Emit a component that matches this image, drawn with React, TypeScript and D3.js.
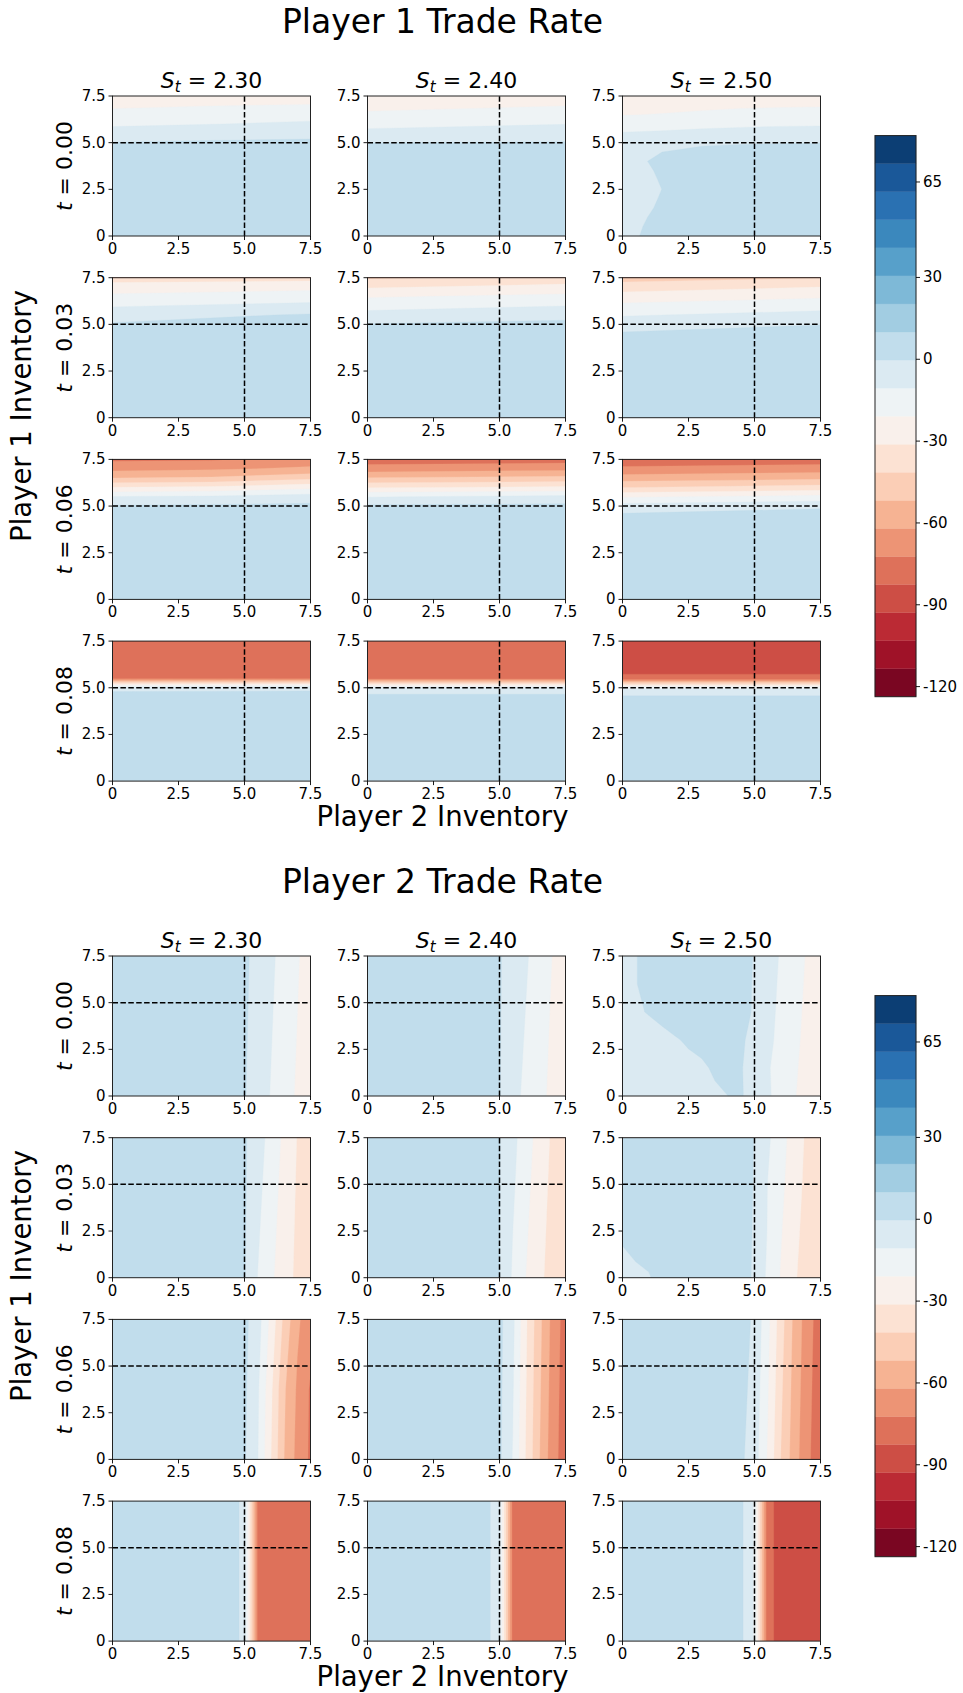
import React from 'react';
import * as d3 from 'd3';

// ---------------- scales / levels ----------------
// contour levels (21 evenly spaced boundaries)
const LEVELS = [-123.7, -113.4, -103.1, -92.85, -82.56, -72.28, -61.99, -51.71, -41.42, -31.14, -20.85, -10.57, -0.28, 10.0, 20.29, 30.58, 40.86, 51.15, 61.43, 71.72, 82.0];
const RDBU_POS = [0, 0.1, 0.2, 0.3, 0.4, 0.5, 0.6, 0.7, 0.8, 0.9, 1];
const RDBU_HEX = ['#67001f', '#b2182b', '#d6604d', '#f4a582', '#fddbc7', '#f7f7f7', '#d1e5f0', '#92c5de', '#4393c3', '#2166ac', '#053061'];
const CBAR_TICKS = [-120, -90, -60, -30, 0, 30, 65];
const CBAR_LABELS = ['-120', '-90', '-60', '-30', '0', '30', '65'];
const AXIS_TICKS = [0, 2.5, 5, 7.5];
const AXIS_TICK_LABELS = ['0', '2.5', '5.0', '7.5'];
const PRICES = ['2.30', '2.40', '2.50'];
const TIMES = ['0.00', '0.03', '0.06', '0.08'];
const GUIDE_INVENTORY = 5;
const INV_MAX = 7.5;
const BASE_RATE = 5; // value of the plateau region

// ---------------- Player 1 trade rate fields ----------------
// rows: Player 1 inventory from 7.5 downward (step 0.5); columns: Player 2 inventory evenly 0..7.5
const P1_T0_S230 = [
  [-27, -26, -25],
  [-22.6, -21.2, -20.4],
  [-17.8, -15.7, -14.6],
  [-12.2, -10.8, -8.8],
  [-6.3, -4.3, -3.1],
  [0, 1.0, 1.5],
  [5, 5, 5],
];
const P1_T0_S240 = [
  [-28, -26],
  [-23.7, -21.2],
  [-19.2, -15.7],
  [-13.6, -10.8],
  [-7.5, -5],
  [-0.4, 0.2],
  [5, 5],
];
const P1_T0_S250 = [
  [-27, -26.5, -26, -25.5, -25.5, -25],
  [-24.1, -23.5, -22.8, -22.2, -21.9, -21.6],
  [-21.2, -20.5, -19.4, -18.2, -17.5, -17.1],
  [-16.2, -14.8, -13.5, -12.6, -12.0, -11.7],
  [-9.8, -9.0, -7.8, -7.0, -6.4, -6.2],
  [-5.5, -4.9, -2.4, -1.35, -0.8, -0.6],
  [-3, -0.3, 3.0, 4.3, 5, 5],
  [-3, 1.3, 5, 5, 5, 5],
  [-3, 0.46, 5, 5, 5, 5],
  [-3, 0.05, 5, 5, 5, 5],
  [-3, -0.25, 5, 5, 5, 5],
  [-3, 0.05, 5, 5, 5, 5],
  [-3, 0.46, 5, 5, 5, 5],
  [-3, 1.3, 5, 5, 5, 5],
  [-3, 2.3, 5, 5, 5, 5],
  [-3, 3.3, 5, 5, 5, 5],
];
const P1_T3_S230 = [
  [-36, -35],
  [-26.7, -24],
  [-18.6, -15.7],
  [-11.4, -8],
  [-5, 0.8],
  [0.8, 5],
  [5, 5],
];
const P1_T3_S240 = [
  [-43, -38],
  [-32.2, -28],
  [-22, -18.5],
  [-14.3, -10.8],
  [-7.1, -3.1],
  [0.2, 1.9],
  [5, 5],
];
const P1_T3_S250 = [
  [-46, -42],
  [-36, -31.1],
  [-26.7, -22.5],
  [-18.6, -14.6],
  [-11.4, -7.3],
  [-5, -0.7],
  [0.8, 5],
  [5, 5],
];
const P1_T6_S230 = [
  [-74, -73.5, -68],
  [-65.2, -63.5, -60.2],
  [-51.7, -50.3, -44],
  [-30.9, -29, -24],
  [-10.1, -9, -5.7],
  [0.8, 1.5, 2],
  [5, 5, 5],
];
const P1_T6_S240 = [
  [-78, -77],
  [-67.7, -65],
  [-51, -48.5],
  [-31.9, -29.5],
  [-11.1, -8],
  [1.4, 2.2],
  [5, 5],
];
const P1_T6_S250 = [
  [-79, -78],
  [-70.1, -67.5],
  [-57, -54],
  [-41.7, -37],
  [-22, -18],
  [-6, -2.5],
  [1.4, 5],
  [5, 5],
];
const P1_T8_S230 = [
  [-75, -74],
  [-75, -74],
  [-75, -74],
  [-75, -74],
  [-75, -74],
  [-4, -3],
  [5, 5],
];
const P1_T8_S240 = [
  [-76, -76],
  [-76, -76],
  [-76, -76],
  [-76, -76],
  [-76, -76],
  [-8, -8],
  [3, 3],
  [5, 5],
];
const P1_T8_S250 = [
  [-85, -85],
  [-85, -85],
  [-85, -85],
  [-85, -85],
  [-80.5, -80.5],
  [-12, -12],
  [1.5, 1.5],
  [5, 5],
];

// ---------------- Player 2 trade rate fields ----------------
// rows: Player 2 inventory from 7.5 leftward (step 0.5); columns: Player 1 inventory evenly 0..7.5
const P2_T0_S230 = [
  [-27, -25.5],
  [-22.1, -19.9],
  [-16.8, -14.3],
  [-11.1, -8.7],
  [-5.3, -3.3],
  [0.4, 1.4],
  [5, 5],
];
const P2_T0_S240 = [
  [-28, -26],
  [-23.1, -21],
  [-18.1, -15.2],
  [-13, -9.4],
  [-7.1, -4.5],
  [0.1, 0.5],
  [5, 5],
];
const P2_T0_S250 = [
  [-27, -26.8, -26.6, -26.4, -26.2, -26],
  [-23.5, -23.3, -23.0, -22.6, -22.2, -21.7],
  [-20.4, -19.8, -19.0, -18.4, -17.6, -17.0],
  [-13.8, -14.2, -13.4, -12.9, -12.2, -11.5],
  [-9.4, -9.7, -8.2, -7.3, -6.8, -6.25],
  [-4.5, -4.3, -3.55, -1.7, -1.4, -1.0],
  [0.5, 0.2, 1.1, 3.9, 4.0, 4.2],
  [-0.3, 5, 5, 5, 5, 5],
  [-3, 2, 5, 5, 5, 5],
  [-3, -3, 5, 5, 5, 5],
  [-3, -3, 1, 5, 5, 5],
  [-3, -3, -1.1, 5, 5, 5],
  [-3, -3, -5.4, 5, 5, 5],
  [-3, -3, -9, 1, 5, 5],
  [-3, -3, -3, -3, -1, -1],
  [-3, -3, -3, -3, -3, -3],
];
const P2_T3_S230 = [
  [-38, -36],
  [-33.1, -31.5],
  [-27, -23.1],
  [-18.9, -14.3],
  [-10.8, -6.1],
  [0.4, 1],
  [5, 5],
];
const P2_T3_S240 = [
  [-40, -38],
  [-34.7, -32.6],
  [-29, -25.1],
  [-21, -16],
  [-11.9, -7.7],
  [0.1, 0.1],
  [5, 5],
];
const P2_T3_S250 = [
  [-40, -39.3, -38.7, -38],
  [-35, -34.3, -33.6, -32.9],
  [-30.1, -28.8, -27.3, -25.8],
  [-21.7, -20.1, -18.3, -16.8],
  [-12.5, -11.1, -10.8, -8.9],
  [-2.1, -1.5, -1.1, -0.7],
  [5, 5, 5, 5],
  [5, 5, 5, 5],
  [5, 5, 5, 5],
  [5, 5, 5, 5],
  [5, 5, 5, 5],
  [5, 5, 5, 5],
  [3.5, 5, 5, 5],
  [-1, 5, 5, 5],
  [-3, 5, 5, 5],
  [-3, 1, 5, 5],
];
const P2_T6_S230 = [
  [-74, -73.5, -68],
  [-65.2, -63.5, -60.2],
  [-51.7, -50.3, -44],
  [-30.9, -29, -24],
  [-10.1, -9, -5.7],
  [0.8, 1.5, 2],
  [5, 5, 5],
];
const P2_T6_S240 = [
  [-78, -77],
  [-67.7, -65],
  [-51, -48.5],
  [-31.9, -29.5],
  [-11.1, -8],
  [1.4, 2.2],
  [5, 5],
];
const P2_T6_S250 = [
  [-79, -78],
  [-70.1, -67.5],
  [-57, -54],
  [-41.7, -37],
  [-22, -18],
  [-6, -2.5],
  [1.4, 5],
  [5, 5],
];
const P2_T8_S230 = [
  [-75, -75],
  [-75, -75],
  [-75, -75],
  [-75, -75],
  [-75, -75],
  [-4, -4],
  [5, 5],
];
const P2_T8_S240 = [
  [-76, -76],
  [-76, -76],
  [-76, -76],
  [-76, -76],
  [-76, -76],
  [-8, -8],
  [3, 3],
  [5, 5],
];
const P2_T8_S250 = [
  [-85, -85],
  [-85, -85],
  [-85, -85],
  [-85, -85],
  [-80.5, -80.5],
  [-12, -12],
  [1.5, 1.5],
  [5, 5],
];

const P1_FIELDS = [
  [P1_T0_S230, P1_T0_S240, P1_T0_S250],
  [P1_T3_S230, P1_T3_S240, P1_T3_S250],
  [P1_T6_S230, P1_T6_S240, P1_T6_S250],
  [P1_T8_S230, P1_T8_S240, P1_T8_S250],
];
const P2_FIELDS = [
  [P2_T0_S230, P2_T0_S240, P2_T0_S250],
  [P2_T3_S230, P2_T3_S240, P2_T3_S250],
  [P2_T6_S230, P2_T6_S240, P2_T6_S250],
  [P2_T8_S230, P2_T8_S240, P2_T8_S250],
];

const FIGURES = [
  { title: 'Player 1 Trade Rate', fields: P1_FIELDS, orient: 'y' },
  { title: 'Player 2 Trade Rate', fields: P2_FIELDS, orient: 'x' },
];

// ---------------- layout ----------------
const FIG_OFFSET = 860;
const COL_LEFT0 = 112.5;
const COL_PITCH = 255;
const PANEL_W = 198;
const ROW_TOP0 = 96;
const ROW_PITCH = 181.7;
const PANEL_H = 140;
const CBAR_X = 875;
const CBAR_W = 41;
const CBAR_TOP = 135.6;
const CBAR_BOTTOM = 696.7;
const FONT = "'DejaVu Sans', 'Liberation Sans', sans-serif";

const cmap = d3.scaleLinear<string>().domain(RDBU_POS).range(RDBU_HEX).interpolate(d3.interpolateRgb);
const BAND_COLORS = LEVELS.slice(0, -1).map((l, i) => cmap((i + 0.5) / (LEVELS.length - 1)));

function buildGrid(rows: number[][], orient: string) {
  const n = rows[0].length;
  const N = 16;
  if (orient === 'y') {
    const nx = n, ny = N;
    const values: number[] = new Array(nx * ny);
    for (let r = 0; r < ny; r++)
      for (let c = 0; c < nx; c++) values[r * nx + c] = rows[r] ? rows[r][c] : BASE_RATE;
    return {
      values, nx, ny,
      gx: (g: number) => (g - 0.5) * INV_MAX / (n - 1),
      gy: (g: number) => INV_MAX - (g - 0.5) * 0.5,
    };
  }
  const nx = N, ny = n;
  const values: number[] = new Array(nx * ny);
  for (let r = 0; r < ny; r++)
    for (let c = 0; c < nx; c++) {
      const row = rows[N - 1 - c];
      values[r * nx + c] = row ? row[n - 1 - r] : BASE_RATE;
    }
  return {
    values, nx, ny,
    gx: (g: number) => (g - 0.5) * 0.5,
    gy: (g: number) => INV_MAX - (g - 0.5) * INV_MAX / (n - 1),
  };
}

function Panel({ rows, orient, left, top, id }: any) {
  const x = d3.scaleLinear().domain([0, INV_MAX]).range([left, left + PANEL_W]);
  const y = d3.scaleLinear().domain([0, INV_MAX]).range([top + PANEL_H, top]);
  const g = buildGrid(rows, orient);
  const contours = d3.contours().size([g.nx, g.ny]).thresholds(LEVELS.slice(0, -1))(g.values);
  const proj = d3.geoTransform({
    point: function (this: any, px: number, py: number) {
      this.stream.point(x(g.gx(px)), y(g.gy(py)));
    },
  });
  const path = d3.geoPath(proj as any);
  return (
    <g>
      <clipPath id={id}>
        <rect x={left} y={top} width={PANEL_W} height={PANEL_H} />
      </clipPath>
      <g clipPath={`url(#${id})`}>
        {contours.map((c, i) =>
          c.coordinates.length ? (
            <path key={i} d={path(c as any) || ''} fill={BAND_COLORS[i]} stroke={BAND_COLORS[i]} strokeWidth={0.3} />
          ) : null
        )}
      </g>
      <line x1={x(0)} x2={x(INV_MAX)} y1={y(GUIDE_INVENTORY)} y2={y(GUIDE_INVENTORY)} stroke="#000" strokeWidth={1.5} strokeDasharray="5.5,2.4" />
      <line x1={x(GUIDE_INVENTORY)} x2={x(GUIDE_INVENTORY)} y1={y(0)} y2={y(INV_MAX)} stroke="#000" strokeWidth={1.5} strokeDasharray="5.5,2.4" />
      <rect x={left} y={top} width={PANEL_W} height={PANEL_H} fill="none" stroke="#222" strokeWidth={1} />
      {AXIS_TICKS.map((t, i) => (
        <g key={'x' + i}>
          <line x1={x(t)} x2={x(t)} y1={top + PANEL_H} y2={top + PANEL_H + 4} stroke="#000" strokeWidth={0.9} />
          <text x={x(t)} y={top + PANEL_H + 18} fontSize={15} textAnchor="middle">{AXIS_TICK_LABELS[i]}</text>
        </g>
      ))}
      {AXIS_TICKS.map((t, i) => (
        <g key={'y' + i}>
          <line x1={left - 4} x2={left} y1={y(t)} y2={y(t)} stroke="#000" strokeWidth={0.9} />
          <text x={left - 7} y={y(t)} fontSize={15} textAnchor="end" dominantBaseline="central">{AXIS_TICK_LABELS[i]}</text>
        </g>
      ))}
    </g>
  );
}

function Colorbar({ offset }: any) {
  const s = d3.scaleLinear().domain([LEVELS[0], LEVELS[LEVELS.length - 1]]).range([CBAR_BOTTOM + offset, CBAR_TOP + offset]);
  return (
    <g>
      {LEVELS.slice(0, -1).map((l, i) => (
        <rect key={i} x={CBAR_X} y={s(LEVELS[i + 1])} width={CBAR_W} height={s(l) - s(LEVELS[i + 1])} fill={BAND_COLORS[i]} stroke={BAND_COLORS[i]} strokeWidth={0.3} />
      ))}
      <rect x={CBAR_X} y={s(LEVELS[LEVELS.length - 1])} width={CBAR_W} height={s(LEVELS[0]) - s(LEVELS[LEVELS.length - 1])} fill="none" stroke="#222" strokeWidth={1} />
      {CBAR_TICKS.map((t, i) => (
        <g key={i}>
          <line x1={CBAR_X + CBAR_W} x2={CBAR_X + CBAR_W + 4} y1={s(t)} y2={s(t)} stroke="#000" strokeWidth={0.9} />
          <text x={CBAR_X + CBAR_W + 7} y={s(t)} fontSize={15} dominantBaseline="central">{CBAR_LABELS[i]}</text>
        </g>
      ))}
    </g>
  );
}

function Figure({ fig, offset, idx }: any) {
  return (
    <g>
      <text x={442.5} y={33 + offset} fontSize={33} textAnchor="middle">{fig.title}</text>
      {PRICES.map((p, c) => (
        <text key={c} x={COL_LEFT0 + c * COL_PITCH + PANEL_W / 2} y={88 + offset} fontSize={22} textAnchor="middle">
          <tspan fontStyle="italic">S</tspan>
          <tspan fontStyle="italic" fontSize={15} dy={4}>t</tspan>
          <tspan dy={-4}>{' = ' + p}</tspan>
        </text>
      ))}
      {TIMES.map((t, r) => (
        <text key={r} transform={`translate(72,${ROW_TOP0 + r * ROW_PITCH + PANEL_H / 2 + offset}) rotate(-90)`} fontSize={22} textAnchor="middle">
          <tspan fontStyle="italic">t</tspan>
          <tspan>{' = ' + t}</tspan>
        </text>
      ))}
      {fig.fields.map((row: number[][][], r: number) =>
        row.map((rows: number[][], c: number) => (
          <Panel key={`${r}-${c}`} rows={rows} orient={fig.orient} id={`clip-${idx}-${r}-${c}`}
            left={COL_LEFT0 + c * COL_PITCH} top={ROW_TOP0 + r * ROW_PITCH + offset} />
        ))
      )}
      <text transform={`translate(31,${416 + offset}) rotate(-90)`} fontSize={27.5} textAnchor="middle">Player 1 Inventory</text>
      <text x={442.5} y={826 + offset} fontSize={27.5} textAnchor="middle">Player 2 Inventory</text>
      <Colorbar offset={offset} />
    </g>
  );
}

export default function App() {
  return (
    <svg width={963} height={1693} style={{ position: 'absolute', left: 0, top: 0, background: '#fff' }} fontFamily={FONT}>
      <rect x={0} y={0} width={963} height={1693} fill="#fff" />
      {FIGURES.map((fig, fi) => (
        <Figure key={fi} fig={fig} offset={fi * FIG_OFFSET} idx={fi} />
      ))}
    </svg>
  );
}
